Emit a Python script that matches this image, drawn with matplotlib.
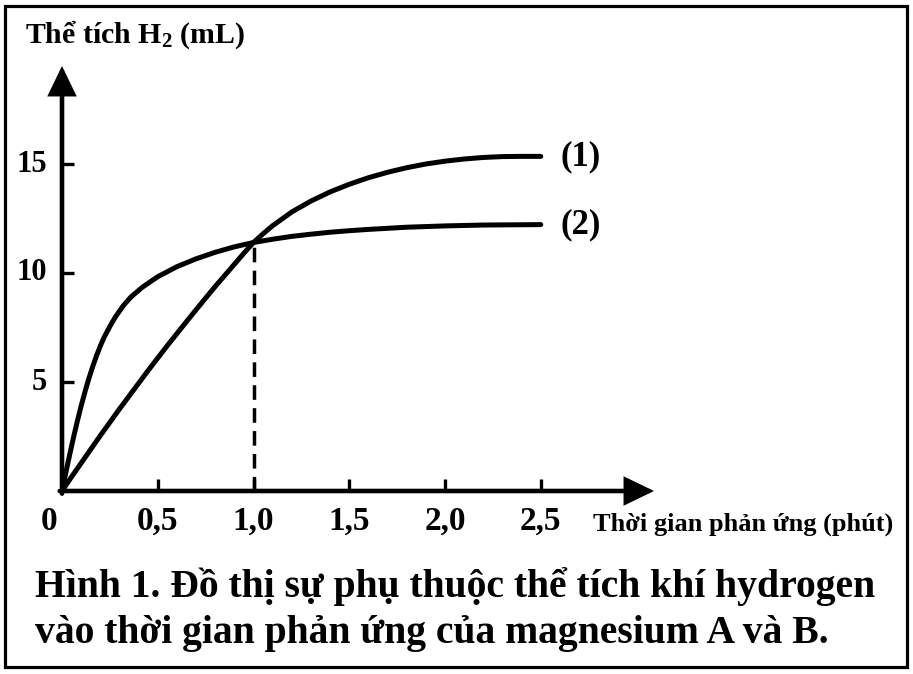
import matplotlib
matplotlib.use("Agg")
import matplotlib.pyplot as plt
from matplotlib.patches import Rectangle

plt.rcParams['font.family'] = ['Liberation Serif', 'DejaVu Serif']
plt.rcParams['font.weight'] = 'bold'
plt.rcParams['mathtext.fontset'] = 'custom'
plt.rcParams['mathtext.rm'] = 'Liberation Serif:bold'
plt.rcParams['mathtext.it'] = 'Liberation Serif:bold'
plt.rcParams['mathtext.bf'] = 'Liberation Serif:bold'
plt.rcParams['lines.scale_dashes'] = False

# ---- data ----
t1 = [0, 0.05, 0.10, 0.15, 0.20, 0.25, 0.30, 0.35, 0.40, 0.45, 0.50, 0.55, 0.60, 0.65,
      0.70, 0.75, 0.80, 0.85, 0.90, 0.95, 1.0, 1.05, 1.1, 1.2, 1.3, 1.4, 1.5, 1.6, 1.7,
      1.8, 1.9, 2.0, 2.1, 2.2, 2.3, 2.4, 2.5]
v1 = [0, 0.65, 1.28, 1.91, 2.54, 3.15, 3.76, 4.35, 4.94, 5.53, 6.1, 6.67, 7.22, 7.77,
      8.31, 8.85, 9.38, 9.89, 10.4, 10.91, 11.4, 11.8, 12.17, 12.8, 13.3, 13.72, 14.07,
      14.37, 14.62, 14.83, 15.0, 15.13, 15.23, 15.3, 15.34, 15.35, 15.35]
t2 = [0, 0.02, 0.04, 0.06, 0.08, 0.10, 0.12, 0.14, 0.16, 0.18, 0.20, 0.22, 0.25, 0.28,
      0.32, 0.36, 0.42, 0.50, 0.60, 0.70, 0.80, 0.90, 1.0, 1.1, 1.2, 1.3, 1.4, 1.5,
      1.6, 1.7, 1.8, 1.9, 2.0, 2.2, 2.5]
v2 = [0, 0.84, 1.66, 2.45, 3.2, 3.9, 4.55, 5.15, 5.7, 6.2, 6.65, 7.05, 7.55, 8.0,
      8.5, 8.9, 9.35, 9.83, 10.29, 10.65, 10.95, 11.2, 11.4, 11.55, 11.68, 11.78, 11.87,
      11.94, 12.0, 12.05, 12.1, 12.13, 12.16, 12.2, 12.22]
x_ticks = [0.5, 1.0, 1.5, 2.0, 2.5]
x_tick_labels = ["0,5", "1,0", "1,5", "2,0", "2,5"]
y_ticks = [5, 10, 15]
y_tick_labels = ["5", "10", "15"]
t_cross, v_cross = 1.0, 11.4
series_labels = ["(1)", "(2)"]
y_title = "Thể tích H$_2$ (mL)"
x_title = "Thời gian phản ứng (phút)"
caption = ["Hình 1. Đồ thị sự phụ thuộc thể tích khí hydrogen",
           "vào thời gian phản ứng của magnesium A và B."]

W, H = 913, 674
fig = plt.figure(figsize=(W / 100, H / 100), dpi=100)
ax = fig.add_axes([0, 0, 1, 1])
PX_X, X0, PX_Y, Y0 = 191.5, 62.0, 21.8, 491.0
ax.set_xlim(-X0 / PX_X, (W - X0) / PX_X)
ax.set_ylim((Y0 - H) / PX_Y, Y0 / PX_Y)
ax.axis('off')

def dx(px):
    return (px - X0) / PX_X

def dy(py):
    return (Y0 - py) / PX_Y

# frame
fig.patches.append(Rectangle((5 / W, 1 - 667 / H), 902 / W, 661 / H,
                             transform=fig.transFigure, fill=False,
                             lw=2.3, edgecolor='black'))

# axes with arrows
arrow_kw = dict(arrowstyle='-|>,head_length=1.65,head_width=0.8', lw=3.3,
                color='black', shrinkA=0, shrinkB=0, joinstyle='miter')
ax.annotate('', xy=(0, dy(66)), xytext=(0, -0.12), arrowprops=arrow_kw)
ax.annotate('', xy=(dx(654), 0), xytext=(-0.012, 0), arrowprops=arrow_kw)

# ticks
for xt in x_ticks:
    ax.plot([xt, xt], [0, 12 / PX_Y], color='black', lw=2.4, solid_capstyle='butt')
for yt in y_ticks:
    ax.plot([0, 12 / PX_X], [yt, yt], color='black', lw=2.4, solid_capstyle='butt')

# curves
ax.plot(t1, v1, color='black', lw=3.6, solid_capstyle='round', solid_joinstyle='round')
ax.plot(t2, v2, color='black', lw=3.6, solid_capstyle='round', solid_joinstyle='round')
ax.plot([t_cross, t_cross], [0, v_cross], color='black', lw=2.5,
        linestyle=(0, (10.5, 6.0)))

# tick labels
for xt, lab in zip(x_ticks, x_tick_labels):
    ax.text(xt, dy(530), lab, ha='center', va='baseline', fontsize=24, fontweight='bold')
ax.text(dx(49), dy(530), "0", ha='center', va='baseline', fontsize=24, fontweight='bold')
for yt, lab in zip(y_ticks, y_tick_labels):
    ax.text(dx(47), yt, lab, ha='right', va='center', fontsize=22, fontweight='bold')

# series labels
ax.text(dx(560), v1[-1], series_labels[0], ha='left', va='center', fontsize=25, fontweight='bold')
ax.text(dx(560), v2[-1], series_labels[1], ha='left', va='center', fontsize=25, fontweight='bold')

# axis titles
fig.text(25 / W, 1 - 43 / H, y_title, ha='left', va='baseline', fontsize=21.5, fontweight='bold')
fig.text(593 / W, 1 - 531 / H, x_title, ha='left', va='baseline', fontsize=19, fontweight='bold')

# caption
fig.text(35 / W, 1 - 597 / H, caption[0], ha='left', va='baseline', fontsize=28.5, fontweight='bold')
fig.text(35 / W, 1 - 643 / H, caption[1], ha='left', va='baseline', fontsize=28.5, fontweight='bold')

fig.savefig("out.png", dpi=100, facecolor='white')
